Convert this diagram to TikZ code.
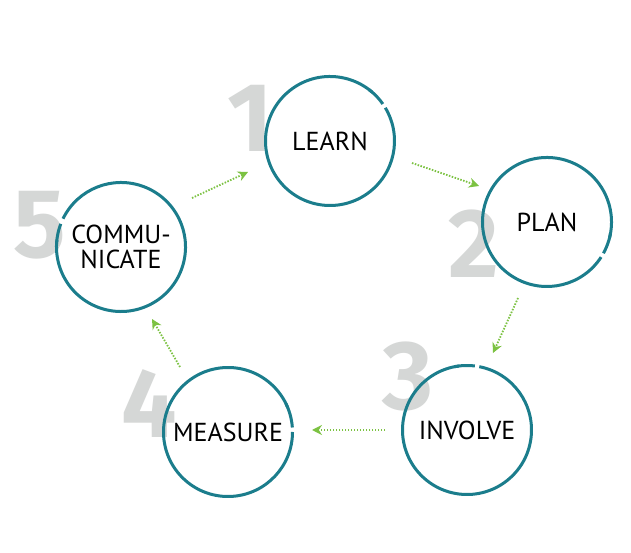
\documentclass[tikz,border=0pt]{standalone}
\usepackage{fontspec}
\setmainfont{PT Sans}
\newfontfamily\digitfont{Fira Sans}
\usetikzlibrary{arrows.meta}
\definecolor{teal1}{HTML}{1B7D8C}
\definecolor{green1}{HTML}{7CC242}
\definecolor{gray1}{HTML}{D5D7D6}
\tikzset{
  stage/.style={circle, minimum size=130pt, inner sep=0pt, font=\fontsize{26}{27}\selectfont, align=center, text=black},
  ring/.style={draw=teal1, line width=3pt},
  num/.style={anchor=base, inner sep=0pt, text=gray1, font=\digitfont\bfseries\fontsize{98}{98}\selectfont},
  arr/.style={draw=green1, line width=1.8pt, dash pattern=on 1.5pt off 1.5pt, -{Stealth[length=10pt,width=10pt,fill=green1]}}
}
\newcommand{\gapring}[5]{%
  \draw[ring] (#1.center) ++(#3:64.5pt) arc[start angle=#3, end angle=#4, radius=64.5pt];
  \draw[ring] (#1.center) ++(#2:64.5pt) arc[start angle=#2, end angle=#5, radius=64.5pt];
}
\begin{document}
\begin{tikzpicture}[x=1pt,y=1pt]
\useasboundingbox[fill=white] (0,0) rectangle (631,553);
% big digits
\node[num] (n1) at (250.5,401) {1};
\node[num] (n2) at (473.5,275) {2};
\node[num] (n3) at (408,143) {3};
\node[num] (n4) at (149.5,115) {4};
\node[num] (n5) at (40,295) {5};
% stages
\node[stage] (learn) at (330,412) {LEARN};
\node[stage] (plan) at (547,331) {PLAN};
\node[stage] (involve) at (467,123) {INVOLVE};
\node[stage] (measure) at (228,121) {MEASURE};
\node[stage] (comm) at (121,306) {COMMU-\\[-2pt]NICATE};
% rings with gaps: {node}{dash start}{dash end}{main start}{main end}
\gapring{learn}{35}{49}{53}{391}
\gapring{plan}{-29}{-14}{-10}{327}
\gapring{involve}{83}{97}{101}{439}
\gapring{measure}{4}{22}{26}{360}
\gapring{comm}{159}{173.5}{177}{514}
% arrows
\coordinate (a1s) at (192,355); \coordinate (a1e) at (248,381);
\coordinate (a2s) at (412,390); \coordinate (a2e) at (479,367);
\coordinate (a3s) at (518,255); \coordinate (a3e) at (493,200);
\coordinate (a4s) at (385,123); \coordinate (a4e) at (312,123);
\coordinate (a5s) at (180,186); \coordinate (a5e) at (152,234);
\draw[arr] (a1s) -- (a1e);
\draw[arr] (a2s) -- (a2e);
\draw[arr] (a3s) -- (a3e);
\draw[arr] (a4s) -- (a4e);
\draw[arr] (a5s) -- (a5e);
\end{tikzpicture}
\end{document}
